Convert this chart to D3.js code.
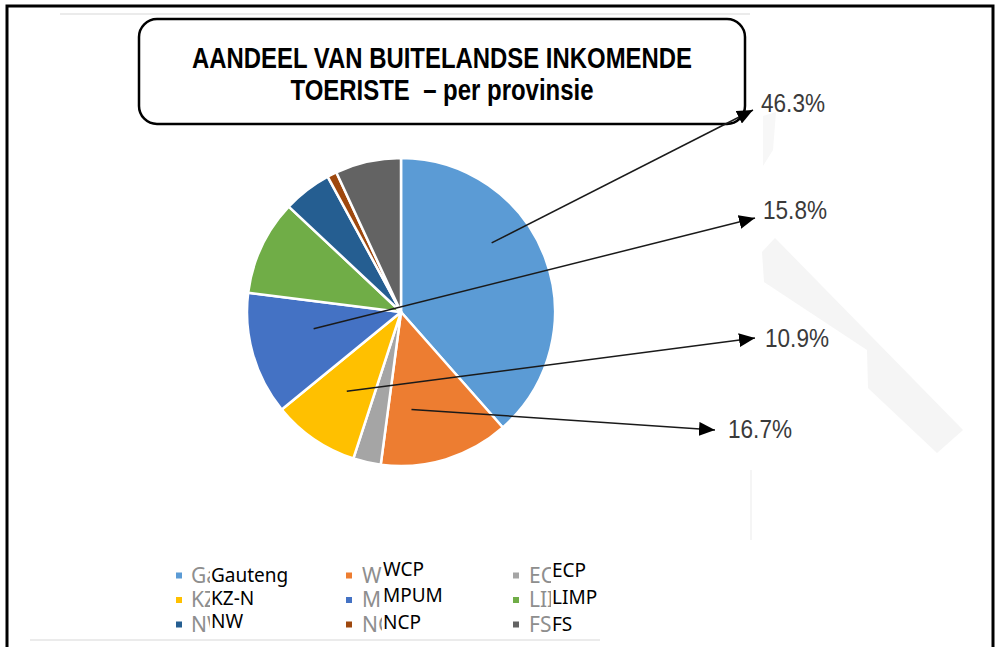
<!DOCTYPE html>
<html>
<head>
<meta charset="utf-8">
<script src="https://cdn.jsdelivr.net/npm/d3@7"></script>
<style>
  body { margin: 0; background: #fff; }
  svg { display: block; }
  .pre { white-space: pre; }
</style>
</head>
<body>
<div id="chart"></div>
<script>
// Data (slice shares as drawn, callout texts as printed)
const provinces = ["Gauteng", "WCP", "ECP", "KZ-N", "MPUM", "LIMP", "NW", "NCP", "FS"];
const shares = [38.5, 13.6, 2.9, 9.1, 12.9, 10.0, 5.1, 1.0, 6.9];
const sliceColors = ["#5b9bd5", "#ed7d31", "#a5a5a5", "#ffc000", "#4472c4", "#70ad47", "#255e91", "#9e480e", "#636363"];
// faded original legend entries that show through at the left of each label
const ghostLabels = ["Ga", "W", "EC", "KZ", "M", "LII", "NW", "NC", "FS"];

const calloutTexts = ["46.3%", "15.8%", "10.9%", "16.7%"];
const calloutSlice = [0, 4, 3, 1];

const titleLines = ["AANDEEL VAN BUITELANDSE INKOMENDE", "TOERISTE  \u2013 per provinsie"];

// Layout
const width = 996, height = 647;
const cx = 401, cy = 312, radius = 154;
// where each callout starts inside its slice (fraction of slice angle, radius) and where its arrow ends
const calloutStart = [[0.38, 114], [0.61, 89], [0.5, 96], [0.72, 98]];
const calloutTip = [[753, 110], [755, 218], [755, 338], [715, 430]];
const calloutTextPos = [[761, 112], [763, 219], [765, 347], [728, 438]];

const svg = d3.select("#chart").append("svg")
  .attr("width", width)
  .attr("height", height);

// faint scan traces and watermark
svg.append("polygon")
  .attr("points", "775,238 963,430 937,453 868,388 867,350 764,282 762,252")
  .attr("fill", "#f5f5f5");
svg.append("polygon")
  .attr("points", "763,116 776,112 773,150 763,166")
  .attr("fill", "#f7f7f7");
svg.append("line").attr("x1", 60).attr("x2", 750).attr("y1", 14).attr("y2", 14)
  .attr("stroke", "#e4e4e4").attr("stroke-width", 1.5);
svg.append("line").attr("x1", 30).attr("x2", 600).attr("y1", 640).attr("y2", 640)
  .attr("stroke", "#d8d8d8").attr("stroke-width", 1.2);
svg.append("line").attr("x1", 751).attr("x2", 751).attr("y1", 470).attr("y2", 540)
  .attr("stroke", "#eeeeee").attr("stroke-width", 1.2);

// outer frame
svg.append("path")
  .attr("d", `M7,${height} V6 H993 V${height}`)
  .attr("fill", "none")
  .attr("stroke", "#000")
  .attr("stroke-width", 3);

// pie
const pie = d3.pie().sort(null).value(d => d);
const arcs = pie(shares);
const arc = d3.arc().innerRadius(0).outerRadius(radius);

const pieG = svg.append("g").attr("transform", `translate(${cx},${cy})`);
pieG.selectAll("path")
  .data(arcs)
  .join("path")
    .attr("d", arc)
    .attr("fill", (d, i) => sliceColors[i])
    .attr("stroke", "#fff")
    .attr("stroke-width", 2.5)
    .attr("stroke-linejoin", "round");

// title box
svg.append("rect")
  .attr("x", 139).attr("y", 19)
  .attr("width", 606).attr("height", 105)
  .attr("rx", 18).attr("ry", 18)
  .attr("fill", "#fff")
  .attr("stroke", "#000")
  .attr("stroke-width", 2.5);

const titleLen = [500, 303];
svg.selectAll(".title")
  .data(titleLines)
  .join("text")
    .attr("class", "title pre")
    .attr("x", 442)
    .attr("y", (d, i) => 68 + i * 32)
    .attr("text-anchor", "middle")
    .attr("textLength", (d, i) => titleLen[i])
    .attr("lengthAdjust", "spacingAndGlyphs")
    .style("font-family", "'Liberation Sans', Arial, sans-serif")
    .style("font-weight", "bold")
    .style("font-size", "29px")
    .text(d => d);

// callout arrows
const defs = svg.append("defs");
defs.append("marker")
  .attr("id", "head")
  .attr("viewBox", "0 0 16 14")
  .attr("refX", 16).attr("refY", 7)
  .attr("markerWidth", 16).attr("markerHeight", 14)
  .attr("markerUnits", "userSpaceOnUse")
  .attr("orient", "auto")
  .append("path")
    .attr("d", "M0,0 L16,7 L0,14 Z")
    .attr("fill", "#000");

function pointInSlice(d, t, r) {
  const a = d.startAngle + t * (d.endAngle - d.startAngle);
  return [cx + Math.sin(a) * r, cy - Math.cos(a) * r];
}

calloutTexts.forEach((label, k) => {
  const d = arcs[calloutSlice[k]];
  const [x0, y0] = pointInSlice(d, calloutStart[k][0], calloutStart[k][1]);
  svg.append("line")
    .attr("x1", x0).attr("y1", y0)
    .attr("x2", calloutTip[k][0]).attr("y2", calloutTip[k][1])
    .attr("stroke", "#1a1a1a")
    .attr("stroke-width", 1.5)
    .attr("marker-end", "url(#head)");
  svg.append("text")
    .attr("x", calloutTextPos[k][0])
    .attr("y", calloutTextPos[k][1])
    .attr("textLength", 64)
    .attr("lengthAdjust", "spacingAndGlyphs")
    .style("font-family", "'Liberation Sans', Arial, sans-serif")
    .style("font-size", "25px")
    .style("fill", "#3a3a3a")
    .text(label);
});

// legend: faded original entries, pasted-over labels
const colX = [176, 346, 513];
const rowY = [575.5, 600, 624.5];
const ghostX = [191, 362, 529];
const labelX = [211, 383, 552];
const labelLift = [[0, -6, -5], [-2, -5, -3], [-3, -2, 0]];

colX.forEach((x, c) => {
  defs.append("clipPath").attr("id", "ghost" + c)
    .append("rect")
      .attr("x", ghostX[c] - 2).attr("y", 555)
      .attr("width", labelX[c] - ghostX[c] + 1).attr("height", 90);
});

provinces.forEach((name, i) => {
  const row = Math.floor(i / 3), col = i % 3;
  const y = rowY[row];
  svg.append("rect")
    .attr("x", colX[col]).attr("y", y - 3)
    .attr("width", 6).attr("height", 6)
    .attr("fill", sliceColors[i]);
  svg.append("text")
    .attr("x", ghostX[col])
    .attr("y", y + 7)
    .attr("clip-path", `url(#ghost${col})`)
    .style("font-family", "'Noto Sans', sans-serif")
    .style("font-size", "21px")
    .style("fill", "#8e8e8e")
    .text(ghostLabels[i]);
  svg.append("text")
    .attr("x", labelX[col])
    .attr("y", y + 6.5 + labelLift[row][col])
    .style("font-family", "'Noto Sans', sans-serif")
    .style("font-size", "19px")
    .style("fill", "#000")
    .text(name);
});
</script>
</body>
</html>
